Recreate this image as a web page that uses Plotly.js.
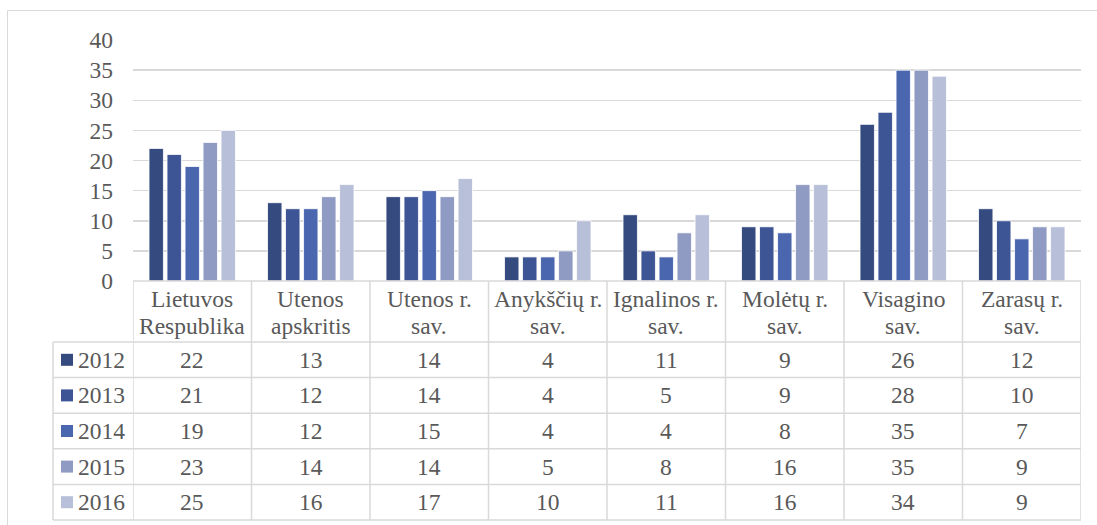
<!DOCTYPE html>
<html>
<head>
<meta charset="utf-8">
<script src="https://cdn.plot.ly/plotly-3.0.1.min.js"></script>
<style>html,body{margin:0;padding:0;background:#fff;}#chart{width:1097px;height:525px;}</style>
</head>
<body>
<div id="chart"></div>
<script>
const categories = ["Lietuvos<br>Respublika", "Utenos<br>apskritis", "Utenos r.<br>sav.", "Anykščių r.<br>sav.", "Ignalinos r.<br>sav.", "Molėtų r.<br>sav.", "Visagino<br>sav.", "Zarasų r.<br>sav."];
const years = ["2012", "2013", "2014", "2015", "2016"];
const v2012 = [22, 13, 14, 4, 11, 9, 26, 12];
const v2013 = [21, 12, 14, 4, 5, 9, 28, 10];
const v2014 = [19, 12, 15, 4, 4, 8, 35, 7];
const v2015 = [23, 14, 14, 5, 8, 16, 35, 9];
const v2016 = [25, 16, 17, 10, 11, 16, 34, 9];
const colors = ["#354a7f", "#3e5595", "#4a66ae", "#8f9bc2", "#b8bfd8"];

const series = [v2012, v2013, v2014, v2015, v2016];
const FONT = "Liberation Serif";
const FS = 23.5;
const TXT = "#595959";
const GRID = "#d9d9d9";

const W = 1097, H = 525;
const L = 133, R = 1081, T = 40, B = 281;
const plotH = B - T, plotW = R - L;
const py = p => (B - p) / plotH;        // pixel y -> paper y
const px = p => (p - L) / plotW;        // pixel x -> paper x

const catIdx = categories.map((c, i) => i);

const traces = series.map((vals, k) => ({
  type: "bar",
  name: years[k],
  x: catIdx,
  y: vals,
  marker: {color: colors[k], line: {color: "#ffffff", width: 0.8}},
  hoverinfo: "skip"
}));

const headTop = 281, headBot = 342;
const rowH = (520 - headBot) / years.length;
const leftX = 53;

const shapes = [];
const annotations = [];
const n = categories.length;

shapes.push({type: "rect", xref: "paper", yref: "paper", x0: px(7.5), x1: px(1100), y0: py(10.5), y1: py(530), line: {color: GRID, width: 1}});

shapes.push({type: "line", xref: "x", yref: "paper", x0: -0.5, x1: n - 0.5, y0: py(headTop), y1: py(headTop), line: {color: GRID, width: 1.5}});
for (let r = 0; r <= years.length; r++) {
  const y = headBot + r * rowH;
  shapes.push({type: "line", xref: "paper", yref: "paper", x0: px(leftX), x1: 1, y0: py(y), y1: py(y), line: {color: GRID, width: 1.5}});
}
for (let k = 0; k <= n; k++) {
  shapes.push({type: "line", xref: "x", yref: "paper", x0: k - 0.5, x1: k - 0.5, y0: py(headTop), y1: py(520), line: {color: GRID, width: 1.5}});
}
shapes.push({type: "line", xref: "paper", yref: "paper", x0: px(leftX), x1: px(leftX), y0: py(headBot), y1: py(520), line: {color: GRID, width: 1.5}});

categories.forEach((c, i) => {
  const lines = c.split("<br>");
  lines.forEach((ln, j) => {
    annotations.push({xref: "x", yref: "paper", x: i, y: py(299 + j * 27), text: ln, showarrow: false,
      xanchor: "center", yanchor: "middle", font: {family: FONT, size: FS, color: TXT}});
  });
});

series.forEach((vals, r) => {
  const cy = headBot + (r + 0.5) * rowH;
  shapes.push({type: "rect", xref: "paper", yref: "paper", x0: px(61), x1: px(73), y0: py(cy - 6), y1: py(cy + 6),
    fillcolor: colors[r], line: {width: 0}});
  annotations.push({xref: "paper", yref: "paper", x: px(76), y: py(cy), text: years[r], showarrow: false,
    xanchor: "left", yanchor: "middle", font: {family: FONT, size: FS, color: TXT}});
  vals.forEach((v, i) => {
    annotations.push({xref: "x", yref: "paper", x: i, y: py(cy), text: String(v), showarrow: false,
      xanchor: "center", yanchor: "middle", font: {family: FONT, size: FS, color: TXT}});
  });
});

const layout = {
  width: W, height: H,
  margin: {l: L, r: W - R, t: T, b: H - B, pad: 0},
  paper_bgcolor: "#ffffff", plot_bgcolor: "#ffffff",
  showlegend: false,
  barmode: "group", bargap: 0.24, bargroupgap: 0.2,
  xaxis: {type: "linear", range: [-0.5, n - 0.5], showticklabels: false, showgrid: false, zeroline: false, showline: false, ticks: "", fixedrange: true},
  yaxis: {range: [0, 40], dtick: 5, tick0: 0, showgrid: true, gridcolor: GRID, gridwidth: 1.5, zeroline: false, showline: false, ticks: "",
    ticklabelstandoff: 19, tickfont: {family: FONT, size: FS, color: TXT}, fixedrange: true},
  shapes: shapes,
  annotations: annotations
};

Plotly.newPlot("chart", traces, layout, {staticPlot: true, displayModeBar: false});
</script>
</body>
</html>
